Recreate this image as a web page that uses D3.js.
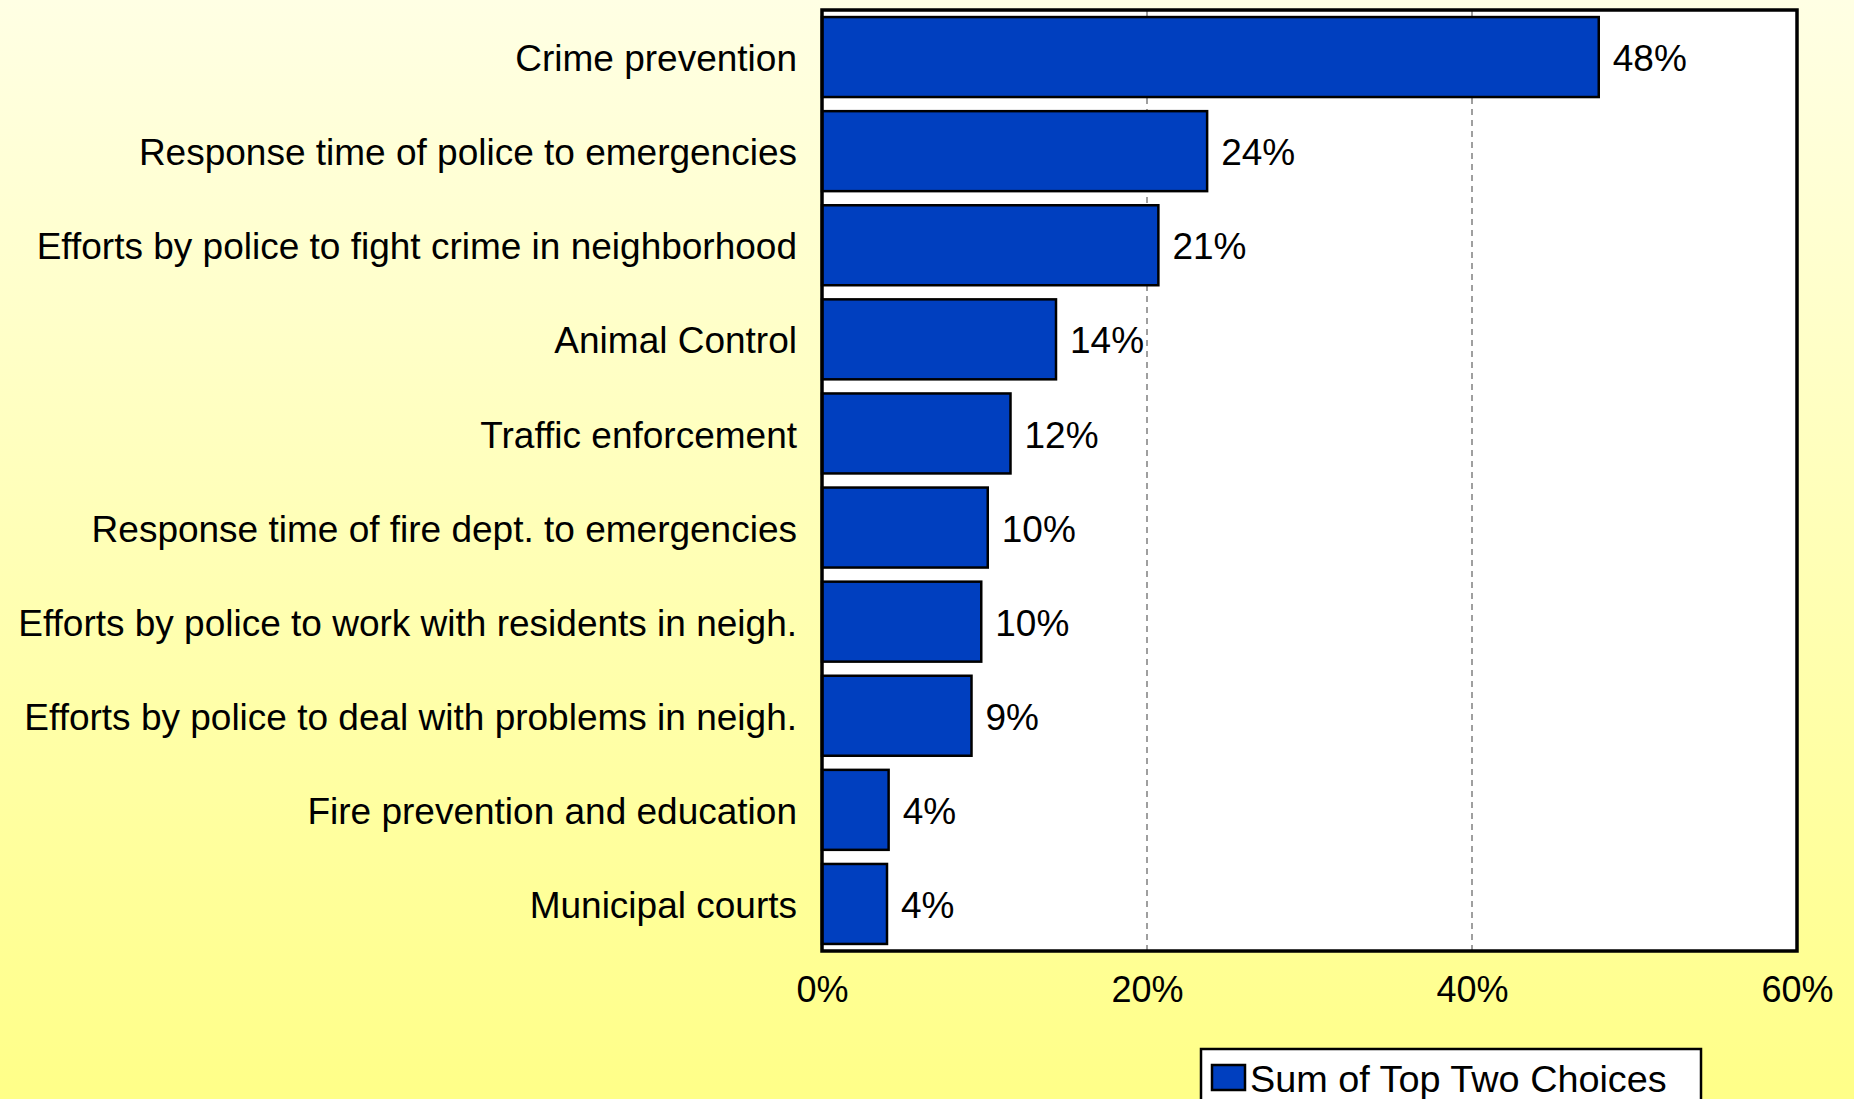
<!DOCTYPE html>
<html>
<head>
<meta charset="utf-8">
<script src="https://cdn.jsdelivr.net/npm/d3@7"></script>
<style>
  html, body { margin: 0; padding: 0; overflow: hidden; }
  svg { display: block; }
</style>
</head>
<body>
<svg id="chart"></svg>
<script>
const categories = [
  "Crime prevention",
  "Response time of police to emergencies",
  "Efforts by police to fight crime in neighborhood",
  "Animal Control",
  "Traffic enforcement",
  "Response time of fire dept. to emergencies",
  "Efforts by police to work with residents in neigh.",
  "Efforts by police to deal with problems in neigh.",
  "Fire prevention and education",
  "Municipal courts"
];
const values = [47.8, 23.7, 20.7, 14.4, 11.6, 10.2, 9.8, 9.2, 4.1, 4.0];
const xTicks = [0, 20, 40, 60];
const seriesName = "Sum of Top Two Choices";

const width = 1854, height = 1099;
const plot = { left: 822, right: 1797, top: 10, bottom: 951 };
const font = "'Liberation Sans', Arial, sans-serif";

const svg = d3.select('#chart').attr('width', width).attr('height', height);

// yellow gradient background
const defs = svg.append('defs');
const grad = defs.append('linearGradient').attr('id', 'bg')
  .attr('x1', 0).attr('y1', 0).attr('x2', 0).attr('y2', 1);
grad.append('stop').attr('offset', '0%').attr('stop-color', '#FFFFE4');
grad.append('stop').attr('offset', '100%').attr('stop-color', '#FFFF88');
svg.append('rect').attr('width', width).attr('height', height).attr('fill', 'url(#bg)');

const x = d3.scaleLinear().domain([0, 60]).range([plot.left, plot.right]);
const y = d3.scaleBand().domain(categories).range([plot.top, plot.bottom])
  .paddingInner(0.15).paddingOuter(0.075);

// plot area
svg.append('rect')
  .attr('x', plot.left).attr('y', plot.top)
  .attr('width', plot.right - plot.left).attr('height', plot.bottom - plot.top)
  .attr('fill', '#ffffff');

// dashed gridlines
svg.append('g').selectAll('line')
  .data(xTicks.filter(d => d > 0 && d < 60))
  .enter().append('line')
  .attr('x1', d => x(d)).attr('x2', d => x(d))
  .attr('y1', plot.top).attr('y2', plot.bottom)
  .attr('stroke', '#808080').attr('stroke-width', 1.5)
  .attr('stroke-dasharray', '6,5');

// bars
svg.append('g').selectAll('rect')
  .data(values)
  .enter().append('rect')
  .attr('x', x(0))
  .attr('y', (d, i) => y(categories[i]))
  .attr('width', d => x(d) - x(0))
  .attr('height', y.bandwidth())
  .attr('fill', '#003FBF')
  .attr('stroke', '#000000').attr('stroke-width', 2.5);

// value labels
svg.append('g').selectAll('text')
  .data(values)
  .enter().append('text')
  .attr('x', d => x(d) + 14)
  .attr('y', (d, i) => y(categories[i]) + y.bandwidth() / 2)
  .attr('dy', '0.38em')
  .attr('font-family', font).attr('font-size', 37)
  .attr('fill', '#000')
  .text(d => Math.round(d) + '%');

// frame
svg.append('rect')
  .attr('x', plot.left).attr('y', plot.top)
  .attr('width', plot.right - plot.left).attr('height', plot.bottom - plot.top)
  .attr('fill', 'none').attr('stroke', '#000').attr('stroke-width', 3.5);

// category axis
const yAxis = svg.append('g')
  .attr('transform', `translate(${plot.left},0)`)
  .call(d3.axisLeft(y).tickSize(0).tickPadding(25));
yAxis.select('.domain').remove();
yAxis.selectAll('text')
  .attr('dy', '0.38em')
  .attr('font-family', font).attr('font-size', 37).attr('fill', '#000');

// value axis
const xAxis = svg.append('g')
  .attr('transform', `translate(0,${plot.bottom})`)
  .call(d3.axisBottom(x).tickValues(xTicks).tickSize(0).tickPadding(25)
    .tickFormat(d => d + '%'));
xAxis.select('.domain').remove();
xAxis.selectAll('text')
  .attr('font-family', font).attr('font-size', 36).attr('fill', '#000');

// legend
const lg = svg.append('g');
lg.append('rect')
  .attr('x', 1201).attr('y', 1049).attr('width', 500).attr('height', 80)
  .attr('fill', '#fff').attr('stroke', '#000').attr('stroke-width', 2.5);
lg.append('rect')
  .attr('x', 1212).attr('y', 1065).attr('width', 33).attr('height', 25)
  .attr('fill', '#003FBF').attr('stroke', '#000').attr('stroke-width', 2.5);
lg.append('text')
  .attr('x', 1250).attr('y', 1092)
  .attr('font-family', font).attr('font-size', 37.8)
  .attr('fill', '#000')
  .text(seriesName);
</script>
</body>
</html>
